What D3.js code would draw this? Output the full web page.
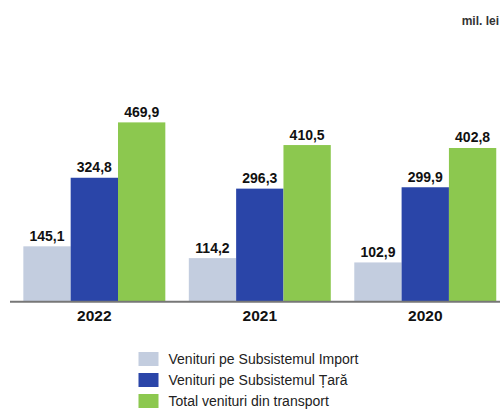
<!DOCTYPE html>
<html>
<head>
<meta charset="utf-8">
<script src="https://cdn.jsdelivr.net/npm/d3@7"></script>
<style>
  body { margin: 0; background: #fff; }
  text { font-family: "Liberation Sans", Arial, sans-serif; }
</style>
</head>
<body>
<div id="chart"></div>
<script>
// chart data
var years = ["2022", "2021", "2020"];
var seriesNames = [
  "Venituri pe Subsistemul Import",
  "Venituri pe Subsistemul Țară",
  "Total venituri din transport"
];
var importValues = [145.1, 114.2, 102.9];
var taraValues = [324.8, 296.3, 299.9];
var totalValues = [469.9, 410.5, 402.8];
var colors = ["#c3cddf", "#2a45a8", "#8cc84f"];

var width = 500, height = 412;
var baseline = 301.7;

var svg = d3.select("#chart").append("svg")
  .attr("width", width)
  .attr("height", height);

var series = [importValues, taraValues, totalValues];

var x0 = d3.scaleBand()
  .domain(years)
  .range([11.6, 508])
  .paddingInner(0.142)
  .paddingOuter(0.071);

var x1 = d3.scaleBand()
  .domain(d3.range(series.length))
  .range([0, x0.bandwidth()]);

var y = d3.scaleLinear()
  .domain([0, 500])
  .range([baseline, baseline - 190.8]);

// unit label
svg.append("text")
  .attr("x", 499)
  .attr("y", 25)
  .attr("text-anchor", "end")
  .attr("font-size", "12px")
  .attr("font-weight", "bold")
  .attr("fill", "#333")
  .text("mil. lei");

var groups = svg.selectAll(".year")
  .data(years)
  .enter()
  .append("g")
  .attr("class", "year")
  .attr("transform", function (d) { return "translate(" + x0(d) + ",0)"; });

series.forEach(function (vals, si) {
  groups.append("rect")
    .attr("x", x1(si))
    .attr("width", x1.bandwidth())
    .attr("y", function (d, i) { return y(vals[i]); })
    .attr("height", function (d, i) { return baseline - y(vals[i]); })
    .attr("fill", colors[si]);

  groups.append("text")
    .attr("x", x1(si) + x1.bandwidth() / 2)
    .attr("y", function (d, i) { return y(vals[i]) - 5.5; })
    .attr("text-anchor", "middle")
    .attr("font-size", "14px")
    .attr("font-weight", "bold")
    .attr("fill", "#111")
    .text(function (d, i) { return d3.format(".1f")(vals[i]).replace(".", ","); });
});

// axis
var xAxis = d3.axisBottom(x0).tickSize(0).tickPadding(8);
var axisG = svg.append("g")
  .attr("transform", "translate(0," + baseline + ")")
  .call(xAxis);
axisG.select(".domain").remove();
axisG.selectAll("text")
  .attr("font-family", "\"Liberation Sans\", Arial, sans-serif")
  .attr("font-size", "15.5px")
  .attr("font-weight", "bold")
  .attr("fill", "#111")
  .attr("dy", "0.71em");
svg.append("line")
  .attr("x1", 10).attr("x2", 500)
  .attr("y1", baseline).attr("y2", baseline)
  .attr("stroke", "#777")
  .attr("stroke-width", 2);

// legend
var legend = svg.selectAll(".legend")
  .data(seriesNames)
  .enter()
  .append("g")
  .attr("class", "legend")
  .attr("transform", function (d, i) { return "translate(138.5," + (352 + i * 21) + ")"; });
legend.append("rect")
  .attr("width", 20)
  .attr("height", 14)
  .attr("fill", function (d, i) { return colors[i]; });
legend.append("text")
  .attr("x", 30)
  .attr("y", 12)
  .attr("font-size", "14px")
  .attr("fill", "#222")
  .text(function (d) { return d; });
</script>
</body>
</html>
